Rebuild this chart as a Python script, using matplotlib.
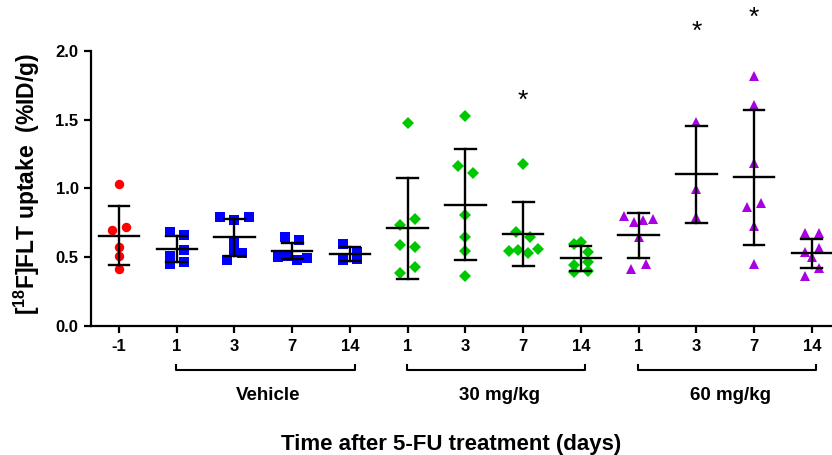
import matplotlib
matplotlib.use('Agg')
import matplotlib.pyplot as plt

plt.rcParams['font.family'] = ['Liberation Sans', 'DejaVu Sans']
plt.rcParams['font.weight'] = 'bold'
plt.rcParams['mathtext.fontset'] = 'custom'
plt.rcParams['mathtext.rm'] = 'Liberation Sans:bold'
plt.rcParams['mathtext.bf'] = 'Liberation Sans:bold'
plt.rcParams['mathtext.default'] = 'regular'

# tick labels (days) and groups
tick_labels = ['-1', '1', '3', '7', '14', '1', '3', '7', '14', '1', '3', '7', '14']
group_names = ['Vehicle', '30 mg/kg', '60 mg/kg']
group_slots = [(1, 4), (5, 8), (9, 12)]

# individual animals, listed row by row (top to bottom, left to right)
baseline = [1.034, 0.698, 0.717, 0.576, 0.511, 0.414]
veh_1 = [0.686, 0.661, 0.509, 0.552, 0.451, 0.467]
veh_3 = [0.794, 0.770, 0.794, 0.618, 0.547, 0.480, 0.533]
veh_7 = [0.649, 0.625, 0.504, 0.510, 0.480, 0.497]
veh_14 = [0.596, 0.535, 0.480, 0.485]
mg30_1 = [1.473, 0.734, 0.778, 0.586, 0.576, 0.387, 0.427]
mg30_3 = [1.528, 1.165, 1.114, 0.807, 0.649, 0.545, 0.366]
mg30_7 = [1.175, 0.686, 0.649, 0.545, 0.550, 0.530, 0.560]
mg30_14 = [0.594, 0.540, 0.608, 0.443, 0.467, 0.395, 0.402]
mg60_1 = [0.800, 0.758, 0.770, 0.775, 0.644, 0.412, 0.451]
mg60_3 = [1.485, 0.993, 0.794]
mg60_7 = [1.817, 1.606, 1.187, 0.862, 0.896, 0.727, 0.451]
mg60_14 = [0.674, 0.674, 0.540, 0.565, 0.499, 0.363, 0.419]

groups = [baseline, veh_1, veh_3, veh_7, veh_14,
          mg30_1, mg30_3, mg30_7, mg30_14,
          mg60_1, mg60_3, mg60_7, mg60_14]

# mean and SD as shown by the bars
means = [0.656, 0.557, 0.644, 0.545, 0.523, 0.710, 0.882, 0.671, 0.492,
         0.661, 1.102, 1.080, 0.528]
sds = [0.216, 0.095, 0.136, 0.060, 0.050, 0.367, 0.405, 0.232, 0.090,
       0.164, 0.350, 0.490, 0.107]

# significance marks: slot index -> height of the star
stars = {7: 1.64, 10: 2.14, 11: 2.24}

colors = ['#FF0000'] + ['#0000FF'] * 4 + ['#00C800'] * 4 + ['#A800E0'] * 4
markers = ['o'] + ['s'] * 4 + ['D'] * 4 + ['^'] * 4
msizes = {'o': 6.8, 's': 6.6, 'D': 6.3, '^': 7.6}


def swarm_offsets(vals, thr=0.062, step=0.25, max_width=0.5):
    # put points of similar value side by side, centred on the slot
    rows = []
    for i, v in enumerate(vals):
        if rows and all(abs(v - vals[j]) < thr for j in rows[-1]):
            rows[-1].append(i)
        else:
            rows.append([i])
    offs = [0.0] * len(vals)
    for r in rows:
        n = len(r)
        s = step if n < 4 else max_width / (n - 1)
        for k, j in enumerate(r):
            offs[j] = (k - (n - 1) / 2) * s
    return offs


fig = plt.figure(figsize=(8.32, 4.55), dpi=100)
ax = fig.add_axes([0.1094, 0.2835, 0.8906, 0.6045])

for pos, vals in enumerate(groups):
    offs = swarm_offsets(vals)
    xs = [pos + o for o in offs]
    ax.plot(xs, vals, linestyle='none', marker=markers[pos], color=colors[pos],
            markersize=msizes[markers[pos]], markeredgewidth=0, zorder=2, clip_on=False)

    m, s = means[pos], sds[pos]
    ax.plot([pos - 0.35, pos + 0.35], [m, m], color='black', lw=1.7, zorder=3)
    ax.plot([pos, pos], [m - s, m + s], color='black', lw=1.7, zorder=3)
    ax.plot([pos - 0.18, pos + 0.18], [m + s, m + s], color='black', lw=1.7, zorder=3)
    ax.plot([pos - 0.18, pos + 0.18], [m - s, m - s], color='black', lw=1.7, zorder=3)

for pos, h in stars.items():
    ax.text(pos, h, '*', ha='center', va='center', fontsize=19,
            fontweight='normal', clip_on=False)

ax.set_xlim(-0.485, 12.35)
ax.set_ylim(0, 2.0)
ax.set_yticks([0.0, 0.5, 1.0, 1.5, 2.0])
ax.set_yticklabels(['0.0', '0.5', '1.0', '1.5', '2.0'])
ax.set_xticks(range(len(tick_labels)))
ax.set_xticklabels(tick_labels)

for side in ['top', 'right']:
    ax.spines[side].set_visible(False)
for side in ['left', 'bottom']:
    ax.spines[side].set_linewidth(1.6)
ax.tick_params(axis='both', direction='out', length=5, width=1.6, labelsize=12, pad=4)
for lab in ax.get_xticklabels() + ax.get_yticklabels():
    lab.set_fontweight('bold')

# group brackets under the x axis
tr = ax.get_xaxis_transform()
for name, (a, b) in zip(group_names, group_slots):
    x0, x1 = a - 0.01, b + 0.08
    ax.plot([x0, x0, x1, x1], [-0.142, -0.16, -0.16, -0.142], color='black',
            lw=1.5, transform=tr, clip_on=False)
    ax.text((x0 + x1) / 2 + 0.05, -0.251, name, transform=tr, ha='center',
            va='center', fontsize=13.5, fontweight='bold')

ax.text(0.486, -0.43, 'Time after 5-FU treatment (days)', transform=ax.transAxes,
        ha='center', va='center', fontsize=16, fontweight='bold')
ax.text(-0.087, 0.516, '[$^{18}$F]FLT uptake  (%ID/g)', transform=ax.transAxes,
        ha='center', va='center', rotation=90, fontsize=16.5, fontweight='bold')

plt.savefig('out.png', dpi=100)
plt.close(fig)
